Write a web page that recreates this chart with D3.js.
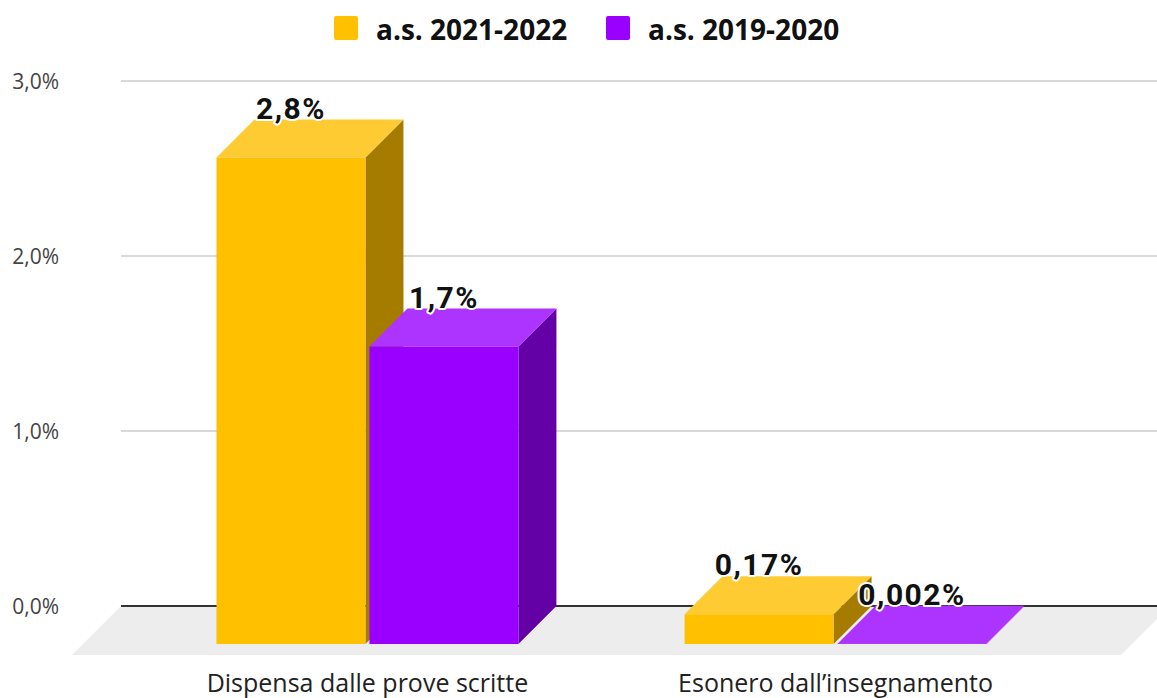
<!DOCTYPE html>
<meta charset="utf-8">
<style>
  body { margin: 0; background: #fff; }
  svg { display: block; }
</style>
<script src="https://d3js.org/d3.v7.min.js"></script>
<svg id="chart" width="1157" height="698"></svg>
<script>
// data
var categories = ["Dispensa dalle prove scritte", "Esonero dall\u2019insegnamento"];
var series = ["a.s. 2021-2022", "a.s. 2019-2020"];
var values2122 = [2.78, 0.17];
var values1920 = [1.70, 0.002];
var labels2122 = ["2,8%", "0,17%"];
var labels1920 = ["1,7%", "0,002%"];
var yTicks = [0, 1, 2, 3];
var yTickLabels = ["0,0%", "1,0%", "2,0%", "3,0%"];

var colors = {
  "a.s. 2021-2022": { front: "#FFC000", top: "#FFCB33", side: "#A67C00" },
  "a.s. 2019-2020": { front: "#9900FF", top: "#AD33FF", side: "#6300A6" }
};

var svg = d3.select("#chart");
var depth = 38;      // bar depth (3d offset)
var floorDepth = 49; // floor depth

var y = d3.scaleLinear().domain([0, 3]).range([606, 81]);

// x positions in the front plane of the bars
var x0 = d3.scaleBand().domain(categories).range([77, 1126])
    .paddingInner(0.355).paddingOuter(0.298);
var x1 = d3.scaleBand().domain(series).range([0, x0.bandwidth()]).paddingInner(0.026);

var plotLeft = 121, plotRight = 1170;

// floor
svg.append("polygon")
    .attr("points", [
      [plotLeft, y(0)], [plotRight, y(0)],
      [plotRight - floorDepth, y(0) + floorDepth], [plotLeft - floorDepth, y(0) + floorDepth]
    ].join(" "))
    .attr("fill", "#EDEDED");

// gridlines
svg.append("g").selectAll("line")
  .data(yTicks)
  .enter().append("line")
    .attr("x1", plotLeft).attr("x2", 1157)
    .attr("y1", function(d){ return y(d); })
    .attr("y2", function(d){ return y(d); })
    .attr("stroke", function(d){ return d === 0 ? "#333" : "#CCCCCC"; })
    .attr("stroke-width", function(d){ return d === 0 ? 2 : 1.5; });

// tick labels
svg.append("g").selectAll("text")
  .data(yTicks)
  .enter().append("text")
    .attr("x", 59)
    .attr("y", function(d){ return y(d); })
    .attr("text-anchor", "end")
    .attr("dominant-baseline", "central")
    .style("font-family", "'Open Sans', sans-serif")
    .style("font-size", "21px")
    .style("fill", "#444")
    .text(function(d, i){ return yTickLabels[i]; });

// bars
var rows = [];
categories.forEach(function(c, i) {
  rows.push({ cat: c, s: series[0], v: values2122[i], label: labels2122[i] });
  rows.push({ cat: c, s: series[1], v: values1920[i], label: labels1920[i] });
});

var bars = svg.append("g").selectAll("g")
  .data(rows)
  .enter().append("g");

bars.each(function(d) {
  var g = d3.select(this);
  var xf = x0(d.cat) + x1(d.s);
  var w = x1.bandwidth();
  var yt = y(d.v), yb = y(0);
  var c = colors[d.s];
  // side face
  g.append("polygon")
    .attr("points", [[xf + w, yt + depth], [xf + w + depth, yt], [xf + w + depth, yb], [xf + w, yb + depth]].join(" "))
    .attr("fill", c.side);
  // top face
  g.append("polygon")
    .attr("points", [[xf, yt + depth], [xf + w, yt + depth], [xf + w + depth, yt], [xf + depth, yt]].join(" "))
    .attr("fill", c.top);
  // front face
  g.append("rect")
    .attr("x", xf).attr("y", yt + depth)
    .attr("width", w).attr("height", yb - yt)
    .attr("fill", c.front);
});

// value labels
svg.append("g").selectAll("text")
  .data(rows)
  .enter().append("text")
    .attr("x", function(d){ return x0(d.cat) + x1(d.s) + x1.bandwidth() / 2; })
    .attr("y", function(d){ return y(d.v) - 1; })
    .attr("text-anchor", "middle")
    .style("font-family", "Roboto, sans-serif")
    .style("font-weight", "bold")
    .style("font-size", "30px")
    .style("letter-spacing", "1.5px")
    .style("fill", "#111")
    .style("stroke", "#fff")
    .style("stroke-width", "4px")
    .style("stroke-linejoin", "round")
    .style("paint-order", "stroke")
    .text(function(d){ return d.label; });

// category labels
svg.append("g").selectAll("text")
  .data(categories)
  .enter().append("text")
    .attr("x", function(d){ return x0(d) + x0.bandwidth() / 2; })
    .attr("y", 692)
    .attr("text-anchor", "middle")
    .style("font-family", "'Open Sans', sans-serif")
    .style("font-size", "25px")
    .style("fill", "#222")
    .text(function(d){ return d; });

// legend
var legendX = [334, 606];
var legend = svg.append("g").selectAll("g")
  .data(series)
  .enter().append("g")
    .attr("transform", function(d, i){ return "translate(" + legendX[i] + ",0)"; });
legend.append("rect")
    .attr("x", 0).attr("y", 16)
    .attr("width", 24).attr("height", 24)
    .attr("rx", 2)
    .attr("fill", function(d){ return colors[d].front; });
legend.append("text")
    .attr("x", 42).attr("y", 29)
    .attr("dominant-baseline", "central")
    .style("font-family", "'Open Sans', sans-serif")
    .style("font-weight", "bold")
    .style("font-size", "28px")
    .style("fill", "#111")
    .text(function(d){ return d; });
</script>
